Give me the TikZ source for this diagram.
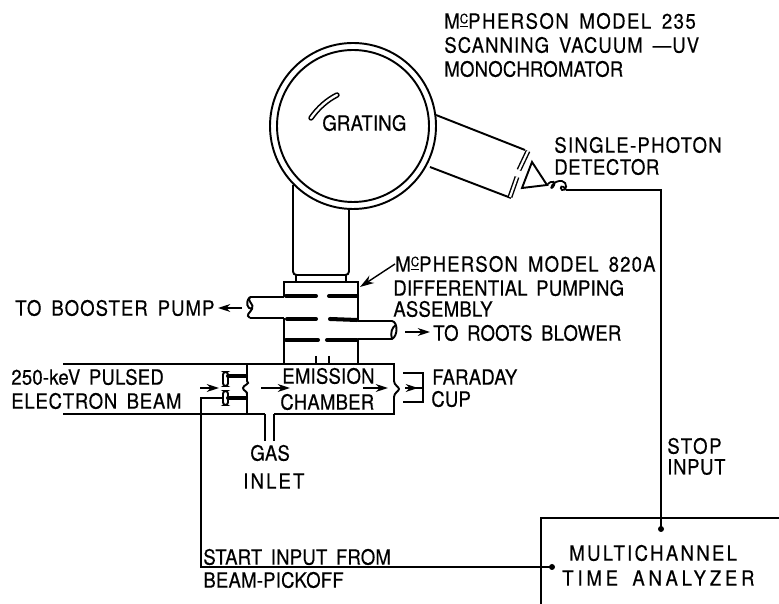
\documentclass[tikz,border=0pt]{standalone}
\usepackage{fontspec}
\setmainfont{TeX Gyre Heros}
\newfontfamily\letterfont[FakeStretch=0.88,FakeBold=0.4,WordSpace=1.6]{TeX Gyre Heros}
\usetikzlibrary{arrows.meta}
\newcommand{\mcname}{M\raisebox{3pt}{\underline{\fontsize{7.5}{8}\selectfont C}}}

\tikzset{
    wall/.style={line width=1.1pt},
    baffle/.style={line width=2.3pt, line cap=round},
    flow/.style={line width=0.8pt, -{Stealth[length=7pt,width=4.5pt]}},
    lbl/.style={anchor=west, inner sep=0pt,
        font=\letterfont\fontsize{12}{14}\addfontfeature{LetterSpace=#1}},
    lbl/.default=1,
}

\begin{document}
\begin{tikzpicture}[x=0.02cm, y=-0.02cm, >=stealth]
    \useasboundingbox (0,0) rectangle (779,604);

    % monochromator
    \coordinate (Mono) at (353,126);
    \draw[wall] (Mono) circle (83);
    \draw[wall] (Mono) circle (76);
    \draw[line width=0.9pt, double, double distance=1.3pt, line cap=round]
        (311,118) .. controls (318,108) and (327,100) .. (337,95);
    \node[lbl] (grating) at (322,123) {GRATING};

    % detector arm
    \draw[wall] (436,115) -- (525,150);
    \draw[wall] (430,167) -- (511,198);
    \draw[line width=0.8pt, double, double distance=1.2pt] (528,151) -- (519,170);
    \draw[line width=0.8pt, double, double distance=1.2pt] (517,177) -- (510,197);
    \draw[wall] (532,162) -- (522,188) -- (547,185) -- cycle;
    \coordinate (Coil) at (566,190);
    \draw[line width=1pt] (547,185) .. controls (552,179) and (557,182) .. (553,187)
        .. controls (549,191) and (552,180) .. (562,181)
        .. controls (568,182) and (567,192) .. (562,190)
        .. controls (559,188) and (562,183) .. (566,190);
    \node[lbl=6] (single) at (554,145) {SINGLE-PHOTON};
    \node[lbl=2.5] (detector) at (554,167) {DETECTOR};

    % tube below the monochromator
    \draw[wall, rounded corners=2] (293,185) -- (293,275) -- (349,275) -- (349,209);
    \draw[wall] (296,275) -- (296,282);
    \draw[wall] (346,275) -- (346,282);

    % pumping assembly
    \draw[wall] (284,297) -- (284,282) -- (358,282) -- (358,321);
    \draw[wall] (284,318) -- (284,364);
    \draw[wall] (358,340) -- (358,364);
    \draw[wall] (316,356) -- (316,364);
    \draw[wall] (329,356) -- (329,364);

    \draw[wall] (250,297) -- (284,297);
    \draw[wall] (250,318) -- (284,318);
    \draw[wall] (250,297) .. controls (246,301) and (255,304) .. (252,309)
        .. controls (250,313) and (245,315) .. (250,318);
    \draw[wall] (250,297) .. controls (245,302) and (247,309) .. (252,309);

    \draw[wall] (358,321) -- (392,321) .. controls (398,322) and (398,336) .. (392,339) -- (358,339);
    \draw[wall] (392,339) .. controls (390,333) and (392,327) .. (396,325);

    \draw[baffle] (286,296) -- (316,296);
    \draw[baffle] (329,296) -- (357,296);
    \draw[baffle] (287,319) -- (316,319);
    \draw[baffle] (330,319) -- (357,320);
    \draw[baffle] (286,340) -- (318,340);
    \draw[baffle] (327,340) -- (357,340);

    \coordinate (Assembly) at (360,287);
    \node[lbl=5.5] (mod820) at (395,264) {\mcname PHERSON MODEL 820A};
    \draw[line width=0.8pt, -{Stealth[length=8pt,width=5pt]}] (mod820.west) -- (Assembly);
    \node[lbl] (diffpump) at (393,288) {DIFFERENTIAL PUMPING};
    \node[lbl] (assembly) at (393,309) {ASSEMBLY};

    \node[lbl=5] (booster) at (15,308) {TO BOOSTER PUMP};
    \node[lbl] (roots) at (433,333) {TO ROOTS BLOWER};
    \coordinate (BoosterEnd) at (242,308);
    \coordinate (RootsEnd) at (405,332);
    \draw[flow] (BoosterEnd) -- (218,308);
    \draw[flow] (RootsEnd) -- (430,332);

    % emission chamber
    \draw[wall] (63,364) -- (394,364) -- (394,381) .. controls (394,385) and (399,387) .. (399,389)
        .. controls (399,391) and (394,393) .. (394,397) -- (394,414) -- (274,414);
    \draw[wall] (265,414) -- (63,414);
    \draw[wall] (247,364) -- (247,381) .. controls (251,384) and (243,385) .. (243,388)
        .. controls (243,391) and (248,391) .. (247,395) -- (247,414);
    \draw[wall] (265,414) -- (265,441);
    \draw[wall] (274,414) -- (274,441);

    % beam pickoff electrodes
    \draw[wall, rounded corners=1.5] (223,372) rectangle (228,386);
    \draw[wall, rounded corners=1.5] (223,391) rectangle (228,405);
    \draw[baffle] (228,376) -- (246,376);
    \draw[baffle] (228,398) -- (246,398);

    \draw[flow] (200,388) -- (219,388);
    \draw[flow] (261,388) -- (290,388);
    \draw[flow] (363,388) -- (388,388);

    % faraday cup
    \draw[wall] (403,373) -- (423,373) -- (423,402) -- (403,402);
    \draw[line width=0.8pt] (405,388) -- (422,388);
    \draw[flow] (405,388) -- (418,388);

    \node[lbl] (beamone) at (11,377) {250-keV PULSED};
    \node[lbl=3.5] (beamtwo) at (11,401) {ELECTRON BEAM};
    \node[lbl] (emission) at (282,376) {EMISSION};
    \node[lbl] (chamber) at (280,402) {CHAMBER};
    \node[lbl] (faraday) at (432,377) {FARADAY};
    \node[lbl] (cup) at (431,399) {CUP};
    \node[lbl] (gas) at (250,453) {GAS};
    \node[lbl=10] (inlet) at (243,481) {INLET};

    % time analyzer
    \draw[wall] (779,518) -- (541,518) -- (541,604);
    \node[lbl=11] (multi) at (569,553) {MULTICHANNEL};
    \node[lbl=18] (time) at (562,578) {TIME ANALYZER};
    \node[lbl=8] (stop) at (667,446) {STOP};
    \node[lbl=3] (input) at (667,467) {INPUT};
    \node[lbl] (start) at (203,557) {START INPUT FROM};
    \node[lbl] (pickoff) at (203,580) {BEAM-PICKOFF};

    \coordinate (StopPin) at (661,529);
    \coordinate (StartPin) at (552,567);
    \coordinate (Pickoff) at (223,398);
    \fill (StopPin) circle (3);
    \fill (StartPin) circle (3);
    \draw[wall] (Coil) -- (661,190) -- (StopPin);
    \draw[wall] (Pickoff) -- (201,398) -- (201,567) -- (StartPin);

    % monochromator text
    \node[lbl=7] (mod235) at (444,21) {\mcname PHERSON MODEL 235};
    \node[lbl=5] (scanning) at (444,45) {SCANNING VACUUM \textemdash UV};
    \node[lbl] (monotxt) at (444,69) {MONOCHROMATOR};
\end{tikzpicture}
\end{document}
